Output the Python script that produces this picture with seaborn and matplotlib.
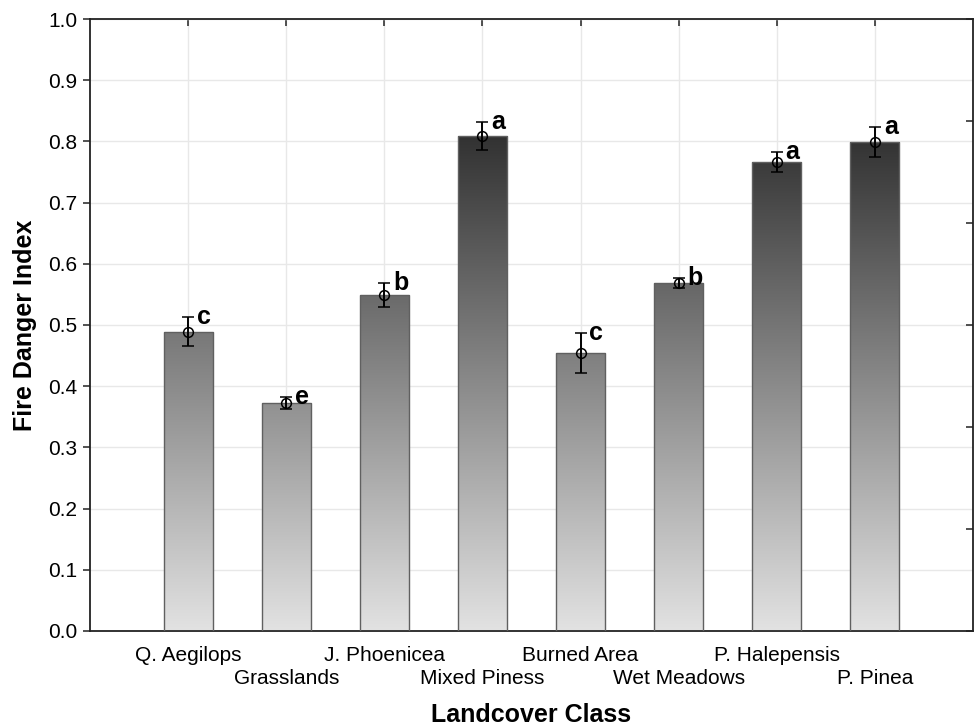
import numpy as np
import pandas as pd
import matplotlib
matplotlib.use("Agg")
import matplotlib.pyplot as plt
from matplotlib.colors import LinearSegmentedColormap
import seaborn as sns

categories = ["Q. Aegilops", "Grasslands", "J. Phoenicea", "Mixed Piness",
              "Burned Area", "Wet Meadows", "P. Halepensis", "P. Pinea"]
means = [0.489, 0.372, 0.549, 0.809, 0.454, 0.569, 0.766, 0.799]
errors = [0.024, 0.010, 0.020, 0.023, 0.033, 0.008, 0.016, 0.025]
letters = ["c", "e", "b", "a", "c", "b", "a", "a"]
yticks = [0.0, 0.1, 0.2, 0.3, 0.4, 0.5, 0.6, 0.7, 0.8, 0.9, 1.0]

sns.set_theme(style="white")
plt.rcParams["font.family"] = ["Liberation Sans", "DejaVu Sans"]
plt.rcParams["text.color"] = "black"
plt.rcParams["axes.labelcolor"] = "black"
plt.rcParams["xtick.color"] = "black"
plt.rcParams["ytick.color"] = "black"

df = pd.DataFrame({"cat": categories, "val": means})

fig = plt.figure(figsize=(9.75, 7.26), dpi=100)
ax = fig.add_axes([0.0923, 0.1309, 0.9057, 0.8429])

sns.barplot(data=df, x="cat", y="val", width=0.5, ax=ax,
            facecolor="none", edgecolor="#606060", linewidth=1.0, zorder=3)

cmap = LinearSegmentedColormap.from_list("g", ["#e2e2e2", "#080808"])
grad = np.linspace(0, 1, 256).reshape(-1, 1)
for p in ax.patches:
    x0 = p.get_x()
    w = p.get_width()
    im = ax.imshow(grad, cmap=cmap, vmin=0, vmax=1, origin="lower",
                   extent=[x0, x0 + w, 0, 1], aspect="auto", zorder=2,
                   interpolation="bilinear")
    im.set_clip_path(p)

ax.set_xlim(-1, 8)
ax.set_ylim(0, 1.0)

xs = np.arange(len(categories))
ax.errorbar(xs, means, yerr=errors, fmt="o", mfc="none", mec="black",
            mew=1.1, ms=7, ecolor="black", elinewidth=1.4, capsize=4.5,
            capthick=1.4, zorder=5)

for x, m, e, l in zip(xs, means, errors, letters):
    ax.text(x + 0.09, m + e + 0.0, l, fontsize=18, fontweight="bold",
            ha="left", va="center", zorder=6)

ax.set_yticks(yticks)
ax.set_yticklabels([f"{t:.1f}" for t in yticks])

# staggered category labels: even on major ticks, odd on minor ticks
ax.set_xticks(xs[0::2])
ax.set_xticklabels(categories[0::2])
ax.set_xticks(xs[1::2], minor=True)
ax.set_xticklabels(categories[1::2], minor=True)

ax.grid(True, which="both", axis="x", color="#e8e8e8", linewidth=1.0, zorder=0)
ax.grid(True, which="major", axis="y", color="#e8e8e8", linewidth=1.0, zorder=0)
ax.set_axisbelow(True)

ax.tick_params(axis="y", direction="out", length=5, width=1.1, color="#222222",
               labelsize=15, pad=4, left=True)
ax.tick_params(axis="x", which="major", direction="in", length=5, width=1.1,
               color="#222222", labelsize=15, pad=10.5, top=True, bottom=True)
ax.tick_params(axis="x", which="minor", direction="in", length=5, width=1.1,
               color="#222222", labelsize=15, pad=27.5, top=True, bottom=True)

for s in ax.spines.values():
    s.set_visible(True)
    s.set_color("#222222")
    s.set_linewidth(1.3)

ax2 = ax.twinx()
ax2.set_ylim(0, 6)
ax2.set_yticks(range(7))
ax2.tick_params(axis="y", direction="in", length=5, width=1.1, color="#222222",
                labelright=False, right=True)
ax2.grid(False)
for s in ax2.spines.values():
    s.set_visible(False)

ax.set_xlabel("Landcover Class", fontsize=18, fontweight="bold", labelpad=11)
ax.set_ylabel("Fire Danger Index", fontsize=18, fontweight="bold", labelpad=8)

fig.savefig("out.png", dpi=100)
